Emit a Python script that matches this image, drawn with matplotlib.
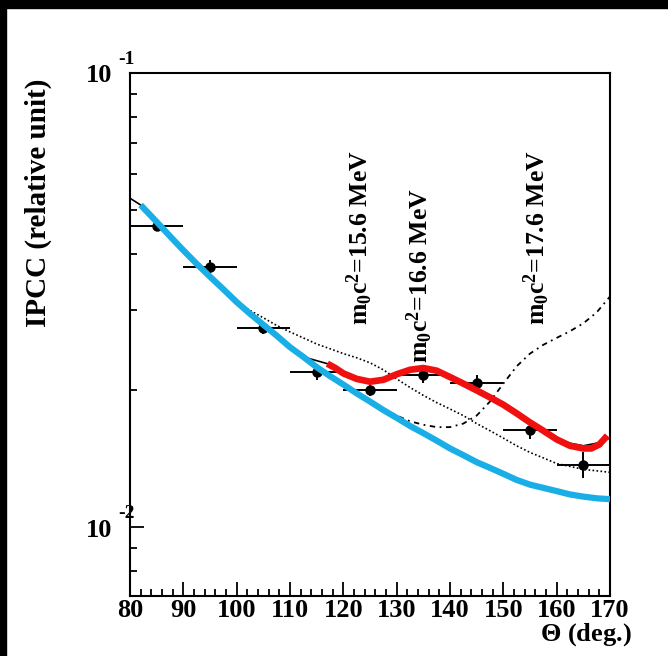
import matplotlib
matplotlib.use("Agg")
import matplotlib.pyplot as plt
from matplotlib.patches import Rectangle
from matplotlib.ticker import MultipleLocator, LogLocator, NullFormatter, FixedLocator
import matplotlib.transforms as mtransforms

plt.rcParams['font.family'] = ['Liberation Serif', 'DejaVu Serif']
plt.rcParams['font.weight'] = 'bold'
plt.rcParams['mathtext.fontset'] = 'custom'
plt.rcParams['mathtext.rm'] = 'Liberation Serif:bold'
plt.rcParams['mathtext.it'] = 'Liberation Serif:bold'
plt.rcParams['mathtext.bf'] = 'Liberation Serif:bold'

# measured points
theta = [85, 95, 105, 115, 125, 135, 145, 155, 165]
ipcc = [0.0460, 0.0374, 0.0274, 0.0220, 0.0200, 0.0216, 0.0208, 0.0164, 0.0137]
ipcc_err = [0.0012, 0.0014, 0.0008, 0.0009, 0.0006, 0.0008, 0.0008, 0.0008, 0.0009]
theta_err = [5, 5, 5, 5, 5, 5, 5, 5, 5]

# pure IPC (blue)
ipc_x = [82, 85, 87.5, 90, 92.5, 95, 97.5, 100, 102.5, 105, 107.5, 110, 112.5, 115,
         117.5, 120, 122.5, 125, 127.5, 130, 132.5, 135, 137.5, 140, 142.5, 145,
         147.5, 150, 152.5, 155, 157.5, 160, 162.5, 165, 167.5, 170]
ipc_y = [0.0512, 0.0470, 0.0437, 0.0407, 0.0380, 0.0356, 0.0334, 0.0313, 0.0295,
         0.0279, 0.0264, 0.0249, 0.0237, 0.0225, 0.0215, 0.0206, 0.0197, 0.0189,
         0.0181, 0.0174, 0.0167, 0.0161, 0.0155, 0.0149, 0.0144, 0.0139, 0.0135,
         0.0131, 0.0127, 0.0124, 0.0122, 0.0120, 0.0118, 0.01167, 0.01157, 0.01152]

# fit with 16.6 MeV boson (red)
fit_x = [117, 118.5, 120, 122.5, 125, 127.5, 130, 132.5, 135, 137.5, 140, 142.5, 145,
         147.5, 150, 152.5, 155, 157.5, 160, 162.5, 165, 166.5, 168, 169.5]
fit_y = [0.0229, 0.0224, 0.0218, 0.0212, 0.0209, 0.0211, 0.0217, 0.0222, 0.0224,
         0.0221, 0.0214, 0.0207, 0.0200, 0.0193, 0.0186, 0.0178, 0.0170, 0.0163,
         0.0156, 0.0151, 0.0149, 0.0149, 0.0152, 0.0159]

# thin black total curve
tot_x = [80, 82, 85, 87.5, 90, 92.5, 95, 97.5, 100, 102.5, 105, 107.5, 110, 112.5,
         117, 118.5, 120, 122.5, 125, 127.5, 130, 132.5, 135, 137.5, 140, 142.5, 145,
         147.5, 150, 152.5, 155, 157.5, 160, 162.5, 165, 167.5, 170]
tot_y = [0.0530, 0.0512, 0.0470, 0.0437, 0.0407, 0.0380, 0.0356, 0.0334, 0.0313,
         0.0295, 0.0279, 0.0264, 0.0249, 0.0237, 0.0229, 0.0224, 0.0218, 0.0212,
         0.0209, 0.0211, 0.0217, 0.0222, 0.0224, 0.0221, 0.0214, 0.0207, 0.0200,
         0.0193, 0.0186, 0.0178, 0.0170, 0.0163, 0.0157, 0.0153, 0.0151, 0.0153, 0.0157]

# 15.6 MeV (dotted)
m156_x = [100, 102.5, 105, 107.5, 110, 112.5, 115, 117.5, 120, 122.5, 125, 127.5, 130,
          132.5, 135, 137.5, 140, 142.5, 145, 147.5, 150, 152.5, 155, 157.5, 160,
          162.5, 165, 167.5, 170]
m156_y = [0.0313, 0.0300, 0.0289, 0.0278, 0.0269, 0.0261, 0.0253, 0.0247, 0.0241,
          0.0236, 0.0230, 0.0222, 0.0212, 0.0203, 0.0195, 0.0188, 0.0182, 0.0176,
          0.0169, 0.0163, 0.0157, 0.0151, 0.0146, 0.0142, 0.0138, 0.0136, 0.0134,
          0.0133, 0.0132]

# 17.6 MeV (dash-dot)
m176_x = [125, 127.5, 130, 132.5, 135, 137.5, 140, 142.5, 145, 147.5, 150, 152.5, 155,
          157.5, 160, 162.5, 165, 167.5, 170]
m176_y = [0.0189, 0.0182, 0.0176, 0.0171, 0.0168, 0.0166, 0.0166, 0.0169, 0.0176,
          0.0189, 0.0207, 0.0226, 0.0241, 0.0252, 0.0261, 0.0270, 0.0281, 0.0297, 0.0322]

labels = [r'm$_0$c$^2$=15.6 MeV', r'm$_0$c$^2$=16.6 MeV', r'm$_0$c$^2$=17.6 MeV']
label_x = [123.1, 134.4, 156.3]
label_y = [0.0279, 0.0230, 0.0279]

fig = plt.figure(figsize=(6.68, 6.56), dpi=100)
fig.patches.append(Rectangle((0, 1 - 8 / 656), 1, 8 / 656, transform=fig.transFigure,
                             color='black', zorder=-1))
fig.patches.append(Rectangle((0, 0), 6 / 668, 1, transform=fig.transFigure,
                             color='black', zorder=-1))
ax = fig.add_axes([130 / 668, 1 - 596 / 656, 480 / 668, 523 / 656])

ax.set_yscale('log')
ax.set_xlim(80, 170)
ax.set_ylim(0.00705, 0.1)

ax.plot(m176_x, m176_y, color='black', lw=1.3, ls=(0, (3, 2.5, 1, 2.5)), zorder=2)
ax.plot(m156_x, m156_y, color='black', lw=1.2, ls=(0, (1, 1.4)), zorder=2)
ax.plot(tot_x, tot_y, color='black', lw=1.2, zorder=2)
ax.errorbar(theta, ipcc, xerr=theta_err, yerr=ipcc_err, fmt='o', color='black',
            ms=6.5, elinewidth=1.4, capsize=0, zorder=3)
ax.plot(fit_x, fit_y, color='#f01010', lw=4.8, solid_capstyle='butt', zorder=4)
ax.plot(ipc_x, ipc_y, color='#19aee6', lw=4.5, solid_capstyle='butt', zorder=5)

for s, x, y in zip(labels, label_x, label_y):
    ax.text(x, y, s, rotation=90, ha='center', va='bottom', fontsize=18.5,
            fontweight='bold')

# axes styling
for sp in ax.spines.values():
    sp.set_linewidth(1.5)
ax.xaxis.set_major_locator(MultipleLocator(10))
ax.xaxis.set_minor_locator(MultipleLocator(2))
ax.yaxis.set_major_locator(FixedLocator([0.01, 0.1]))
ax.yaxis.set_minor_locator(LogLocator(base=10, subs=range(2, 10)))
ax.yaxis.set_major_formatter(NullFormatter())
ax.yaxis.set_minor_formatter(NullFormatter())
ax.tick_params(which='both', direction='in', top=False, right=False, width=1.3)
ax.tick_params(which='major', length=10)
ax.tick_params(which='minor', length=5)
ax.tick_params(axis='x', labelsize=19, pad=2)
for lb in ax.get_xticklabels():
    lb.set_fontweight('bold')

# ROOT-style power labels
trans = mtransforms.blended_transform_factory(ax.transAxes, ax.transData)
for v, ex in [(0.1, '-1'), (0.01, '-2')]:
    ax.text(-0.038, v * 0.985, '10', transform=trans, ha='right', va='center',
            fontsize=19, fontweight='bold')
    ax.text(-0.025, v * 1.025, ex, transform=trans, ha='left', va='bottom', fontsize=14,
            fontweight='bold')

ax.set_ylabel('IPCC (relative unit)', fontsize=21, fontweight='bold')
ax.yaxis.set_label_coords(-0.162, 0.752)
ax.set_xlabel(r'$\Theta$ (deg.)', fontsize=19, fontweight='bold', loc='right')
ax.xaxis.set_label_coords(1.046, -0.048)

fig.savefig('out.png', dpi=100, facecolor='white')
